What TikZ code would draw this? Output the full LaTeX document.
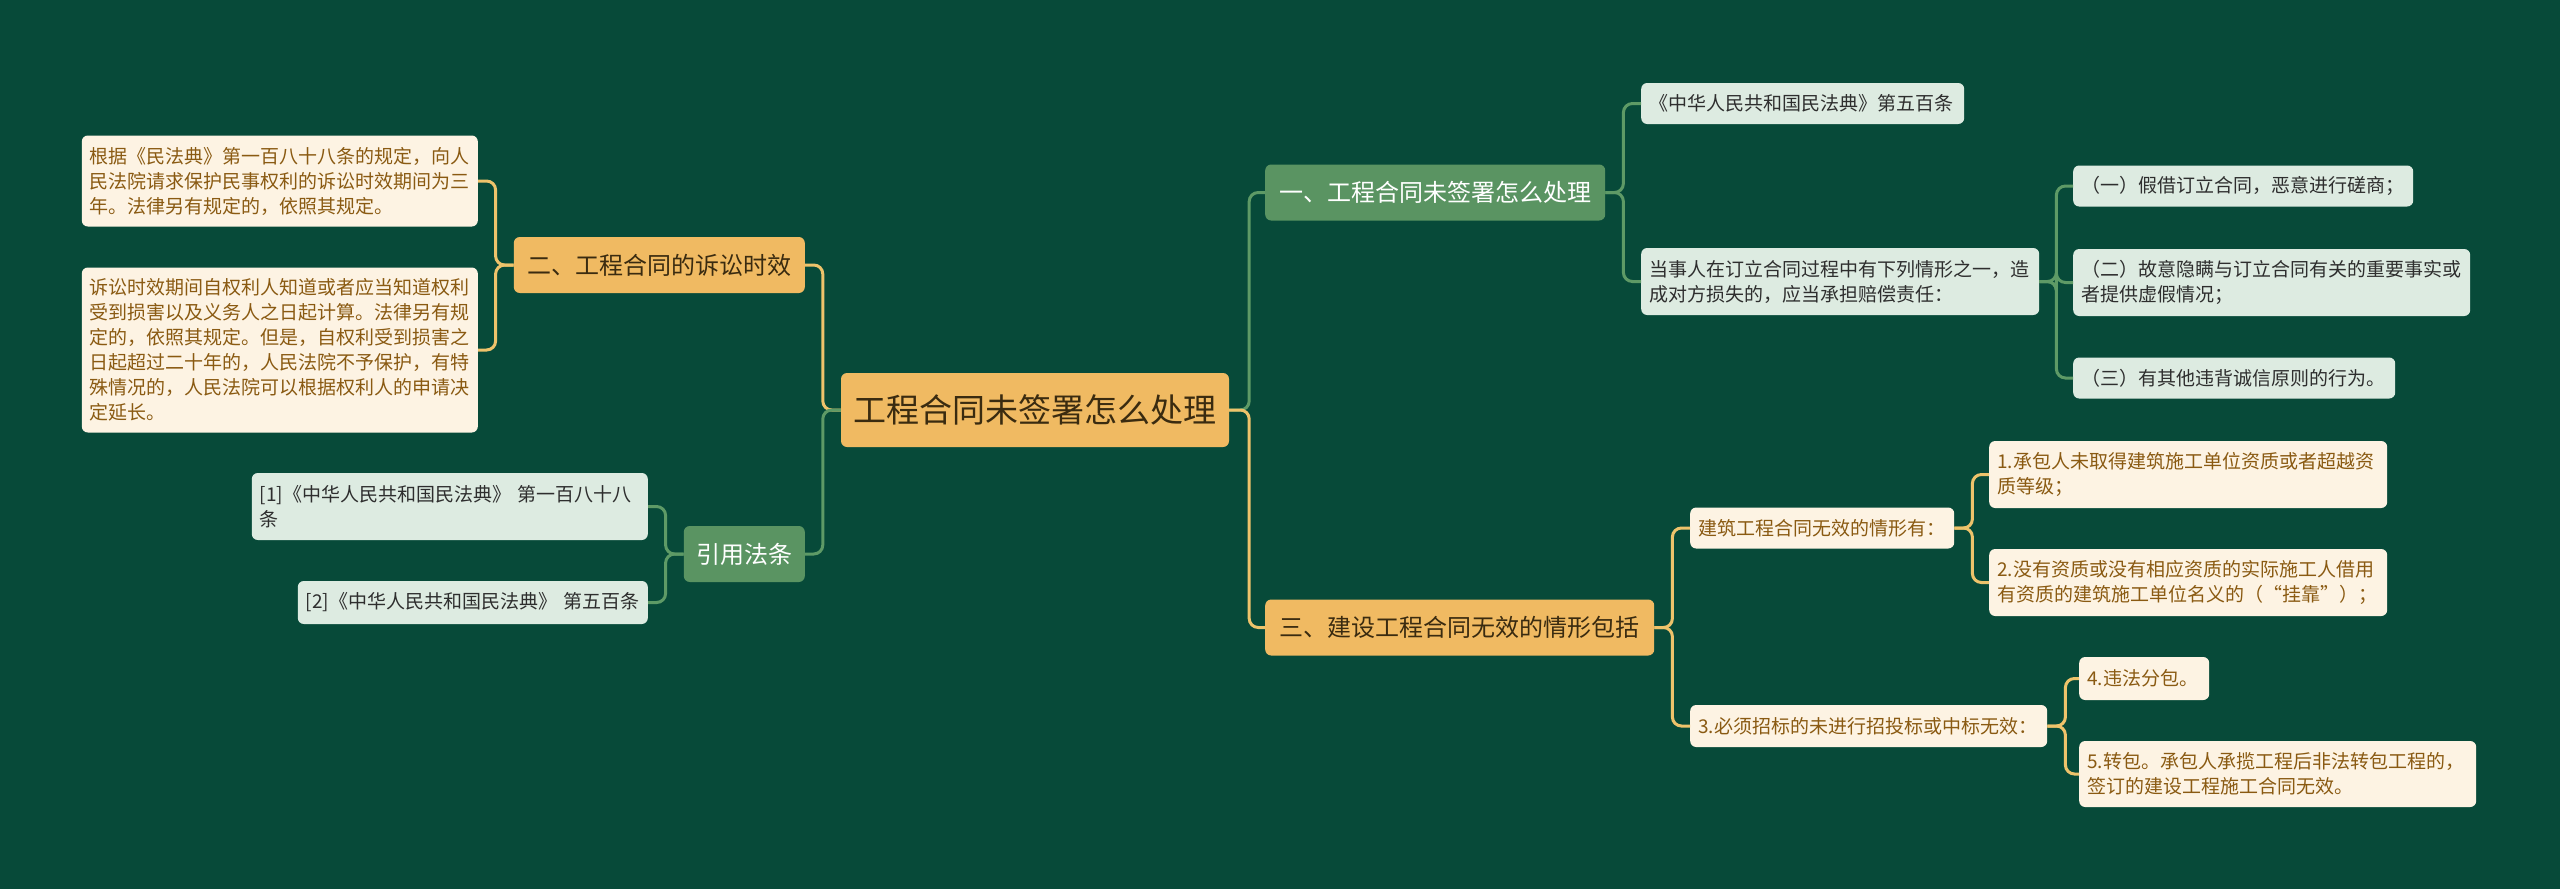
\documentclass[tikz,border=0pt]{standalone}
\usepackage{fontspec}
\setmainfont{Noto Sans CJK SC}
\usepackage{xcolor}

\definecolor{bgGreen}{HTML}{074A39}
\definecolor{rootOrange}{HTML}{F0BA62}
\definecolor{midGreen}{HTML}{5A9462}
\definecolor{paleGreen}{HTML}{DDEBE1}
\definecolor{cream}{HTML}{FDF3E3}
\definecolor{darkText}{HTML}{3A2B10}
\definecolor{grayText}{HTML}{2E2E2E}
\definecolor{brownText}{HTML}{8A5A12}
\definecolor{lineOrange}{HTML}{EEC36B}
\definecolor{lineGreen}{HTML}{5E9A66}

\begin{document}
\begin{tikzpicture}[x=1pt, y=-1pt,
rootbox/.style={fill=rootOrange, text=darkText, rounded corners=6pt, inner sep=0pt, font=\fontsize{33}{38}\selectfont},
lvO/.style={fill=rootOrange, text=darkText, rounded corners=6pt, inner sep=0pt, minimum height=56pt, font=\fontsize{24}{28}\selectfont},
lvG/.style={fill=midGreen, text=white, rounded corners=6pt, inner sep=0pt, minimum height=56pt, font=\fontsize{24}{28}\selectfont},
leafG/.style={fill=paleGreen, text=grayText, rounded corners=6pt, align=left, inner xsep=8pt, inner ysep=0pt, font=\fontsize{19}{25}\selectfont},
leafO/.style={fill=cream, text=brownText, rounded corners=6pt, align=left, inner xsep=8pt, inner ysep=0pt, font=\fontsize{19}{25}\selectfont},
linkO/.style={draw=lineOrange, line width=3pt, rounded corners=9pt},
linkG/.style={draw=lineGreen, line width=3pt, rounded corners=9pt}
]
\fill[bgGreen] (0,0) rectangle (2560,889);

% centre
\node[rootbox, minimum width=388pt, minimum height=74pt] (root) at (1035,410) {工程合同未签署怎么处理};

% left side
\node[lvO, minimum width=291pt, anchor=east] (lim) at (805,265) {二、工程合同的诉讼时效};
\node[leafO, text width=380pt, minimum height=91pt, anchor=east] (limA) at (478,181) {根据《民法典》第一百八十八条的规定，向人\\民法院请求保护民事权利的诉讼时效期间为三\\年。法律另有规定的，依照其规定。};
\node[leafO, text width=380pt, minimum height=165pt, anchor=east] (limB) at (478,350) {诉讼时效期间自权利人知道或者应当知道权利\\受到损害以及义务人之日起计算。法律另有规\\定的，依照其规定。但是，自权利受到损害之\\日起超过二十年的，人民法院不予保护，有特\\殊情况的，人民法院可以根据权利人的申请决\\定延长。};

\node[lvG, minimum width=121pt, anchor=east] (refs) at (805,554) {引用法条};
\node[leafG, text width=380pt, minimum height=67pt, anchor=east] (refA) at (648,506.5) {[1]《中华人民共和国民法典》 第一百八十八\\条};
\node[leafG, text width=334pt, minimum height=43pt, anchor=east] (refB) at (648,602.5) {[2]《中华人民共和国民法典》 第五百条};

% right side, upper branch
\node[lvG, minimum width=340pt, anchor=west] (sign) at (1265,192.5) {一、工程合同未签署怎么处理};
\node[leafG, text width=307pt, minimum height=41pt, anchor=west] (law) at (1641,103.5) {《中华人民共和国民法典》第五百条};
\node[leafG, text width=382pt, minimum height=67pt, anchor=west] (duty) at (1641,281.5) {当事人在订立合同过程中有下列情形之一，造\\成对方损失的，应当承担赔偿责任：};
\node[leafG, text width=324pt, minimum height=41pt, anchor=west] (dutyA) at (2073,186) {（一）假借订立合同，恶意进行磋商；};
\node[leafG, text width=381pt, minimum height=67pt, anchor=west] (dutyB) at (2073,282.5) {（二）故意隐瞒与订立合同有关的重要事实或\\者提供虚假情况；};
\node[leafG, text width=306pt, minimum height=41pt, anchor=west] (dutyC) at (2073,378) {（三）有其他违背诚信原则的行为。};

% right side, lower branch
\node[lvO, minimum width=389pt, anchor=west] (void) at (1265,627.5) {三、建设工程合同无效的情形包括};
\node[leafO, text width=248pt, minimum height=41pt, anchor=west] (voidA) at (1690,528) {建筑工程合同无效的情形有：};
\node[leafO, text width=341pt, minimum height=42pt, anchor=west] (voidB) at (1690,726) {3.必须招标的未进行招投标或中标无效：};
\node[leafO, text width=382pt, minimum height=67pt, anchor=west] (voidAa) at (1989,474.5) {1.承包人未取得建筑施工单位资质或者超越资\\质等级；};
\node[leafO, text width=382pt, minimum height=67pt, anchor=west] (voidAb) at (1989,582.5) {2.没有资质或没有相应资质的实际施工人借用\\有资质的建筑施工单位名义的（“挂靠”）；};
\node[leafO, text width=114pt, minimum height=43pt, anchor=west] (voidBa) at (2079,678.5) {4.违法分包。};
\node[leafO, text width=381pt, minimum height=66pt, anchor=west] (voidBb) at (2079,774) {5.转包。承包人承揽工程后非法转包工程的，\\签订的建设工程施工合同无效。};

% connectors
\draw[linkO] (root.west) -- ++(-18,0) |- (lim.east);
\draw[linkG] (root.west) -- ++(-18,0) |- (refs.east);
\draw[linkG] (root.east) -- ++(20,0) |- (sign.west);
\draw[linkO] (root.east) -- ++(20,0) |- (void.west);

\draw[linkO] (lim.west) -- ++(-18,0) |- (limA.east);
\draw[linkO] (lim.west) -- ++(-18,0) |- (limB.east);
\draw[linkG] (refs.west) -- ++(-18,0) |- (refA.east);
\draw[linkG] (refs.west) -- ++(-18,0) |- (refB.east);

\draw[linkG] (sign.east) -- ++(18,0) |- (law.west);
\draw[linkG] (sign.east) -- ++(18,0) |- (duty.west);
\draw[linkG] (duty.east) -- ++(17,0) |- (dutyA.west);
\draw[linkG] (duty.east) -- ++(17,0) |- (dutyB.west);
\draw[linkG] (duty.east) -- ++(17,0) |- (dutyC.west);

\draw[linkO] (void.east) -- ++(18,0) |- (voidA.west);
\draw[linkO] (void.east) -- ++(18,0) |- (voidB.west);
\draw[linkO] (voidA.east) -- ++(18,0) |- (voidAa.west);
\draw[linkO] (voidA.east) -- ++(18,0) |- (voidAb.west);
\draw[linkO] (voidB.east) -- ++(18,0) |- (voidBa.west);
\draw[linkO] (voidB.east) -- ++(18,0) |- (voidBb.west);
\end{tikzpicture}
\end{document}
